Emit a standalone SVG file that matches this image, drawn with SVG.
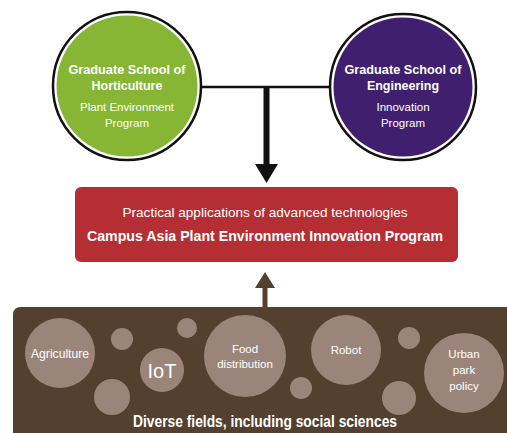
<svg xmlns="http://www.w3.org/2000/svg" width="507" height="433" viewBox="0 0 507 433">
<style>
text{font-family:"Liberation Sans",Arial,sans-serif;fill:#fff;text-anchor:middle}
.b{font-weight:bold}
.ring{stroke:#111;stroke-width:2.5}
.dot{fill:#9b857a}
.t11{font-size:11.5px}
</style>
<rect width="507" height="433" fill="#fff"/>
<g id="connectors">
<line x1="202" y1="87" x2="330" y2="87" stroke="#111" stroke-width="2.5"/>
<line x1="266.5" y1="87" x2="266.5" y2="166" stroke="#111" stroke-width="6"/>
<polygon points="255,164 278,164 266.5,183" fill="#111"/>
<line x1="265" y1="307" x2="265" y2="286" stroke="#54402f" stroke-width="5"/>
<polygon points="255,288 275,288 265,272" fill="#54402f"/>
</g>
<g id="horticulture">
<circle cx="127" cy="86" r="74" fill="#fff" class="ring"/>
<circle cx="127" cy="86" r="70.5" fill="#86b634"/>
<text x="127" y="74" class="b" font-size="12.5" textLength="117" lengthAdjust="spacingAndGlyphs">Graduate School of</text>
<text x="127" y="90" class="b" font-size="12.5">Horticulture</text>
<text x="127" y="111" class="t11">Plant Environment</text>
<text x="127" y="127" class="t11">Program</text>
</g>
<g id="engineering">
<circle cx="403" cy="87" r="73" fill="#fff" class="ring"/>
<circle cx="403" cy="87" r="69.5" fill="#3f1f6e"/>
<text x="403" y="74" class="b" font-size="12.5" textLength="117" lengthAdjust="spacingAndGlyphs">Graduate School of</text>
<text x="403" y="90" class="b" font-size="12.5">Engineering</text>
<text x="403" y="111" class="t11">Innovation</text>
<text x="403" y="127" class="t11">Program</text>
</g>
<g id="program">
<rect x="75" y="187" width="383" height="75" rx="6" fill="#b52e33"/>
<text x="265" y="217" font-size="13" textLength="285" lengthAdjust="spacingAndGlyphs">Practical applications of advanced technologies</text>
<text x="265" y="241" class="b" font-size="14" textLength="356" lengthAdjust="spacingAndGlyphs">Campus Asia Plant Environment Innovation Program</text>
</g>
<g id="fields">
<path d="M13,315 Q13,307 21,307 H507 V433 H13 Z" fill="#54402f"/>
<circle class="dot" cx="60" cy="353" r="35"/>
<circle class="dot" cx="122" cy="339" r="11"/>
<circle class="dot" cx="112" cy="397" r="18"/>
<circle class="dot" cx="162" cy="370" r="22"/>
<circle class="dot" cx="187" cy="328" r="10"/>
<circle class="dot" cx="245" cy="356" r="41"/>
<circle class="dot" cx="301" cy="388" r="11"/>
<circle class="dot" cx="346" cy="350" r="35"/>
<circle class="dot" cx="409" cy="338" r="11"/>
<circle class="dot" cx="399" cy="398" r="17"/>
<circle class="dot" cx="464" cy="373" r="40"/>
<text x="60" y="358" font-size="12" textLength="58" lengthAdjust="spacingAndGlyphs">Agriculture</text>
<text x="162" y="378" font-size="20">IoT</text>
<text x="245" y="353" class="t11">Food</text>
<text x="245" y="368" class="t11">distribution</text>
<text x="346" y="354" class="t11">Robot</text>
<text x="464" y="358" class="t11">Urban</text>
<text x="464" y="374" class="t11">park</text>
<text x="464" y="390" class="t11">policy</text>
<text x="265" y="427" class="b" font-size="16" textLength="264" lengthAdjust="spacingAndGlyphs">Diverse fields, including social sciences</text>
</g>
</svg>
